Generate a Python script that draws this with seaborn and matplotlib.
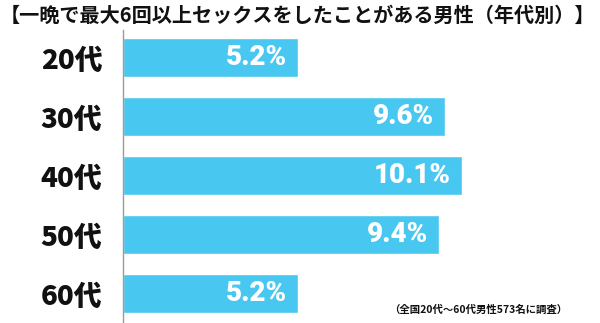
import matplotlib
matplotlib.use("Agg")
import matplotlib.pyplot as plt
import seaborn as sns
import pandas as pd

title = "【一晩で最大6回以上セックスをしたことがある男性（年代別）】"
categories = ["20代", "30代", "40代", "50代", "60代"]
values = [5.2, 9.6, 10.1, 9.4, 5.2]
note = "（全国20代～60代男性573名に調査）"

sns.set_theme(style="white")
plt.rcParams['font.family'] = ['Noto Sans CJK JP', 'DejaVu Sans']

df = pd.DataFrame({"age": categories, "pct": values})

fig = plt.figure(figsize=(6.0, 3.23), dpi=100)
ax = fig.add_axes([123/600, 0, 1 - 123/600, 1 - 30/323])

sns.barplot(data=df, x="pct", y="age", orient="h", color="#48C8F0",
            saturation=1, width=0.66, ax=ax)

ax.set_xlim(0, 14.2)
ax.set_ylim(4.5, -0.466)
ax.set_xlabel("")
ax.set_ylabel("")
ax.set_xticks([])
for s in ["top", "right", "bottom"]:
    ax.spines[s].set_visible(False)
ax.spines["left"].set_color("#9a9a9a")
ax.spines["left"].set_linewidth(1.0)
ax.tick_params(axis="y", length=0, pad=15)
for lab in ax.get_yticklabels():
    lab.set_fontsize(20)
    lab.set_fontweight(900)
    lab.set_color("#111111")

for i, v in enumerate(values):
    ax.text(v - 0.33, i, f"{v}%", ha="right", va="center", color="white",
            fontsize=20, fontweight=900, family=["Roboto", "Liberation Sans", "DejaVu Sans"])

fig.text(0.0, 1 - 15/323, title, ha="left", va="center", fontsize=14.5,
         fontweight="bold", color="#111111")
fig.text(567/600, 1 - 310/323, note, ha="right", va="center", fontsize=7.5,
         fontweight="bold", color="#111111")

fig.savefig("out.png", dpi=100)
